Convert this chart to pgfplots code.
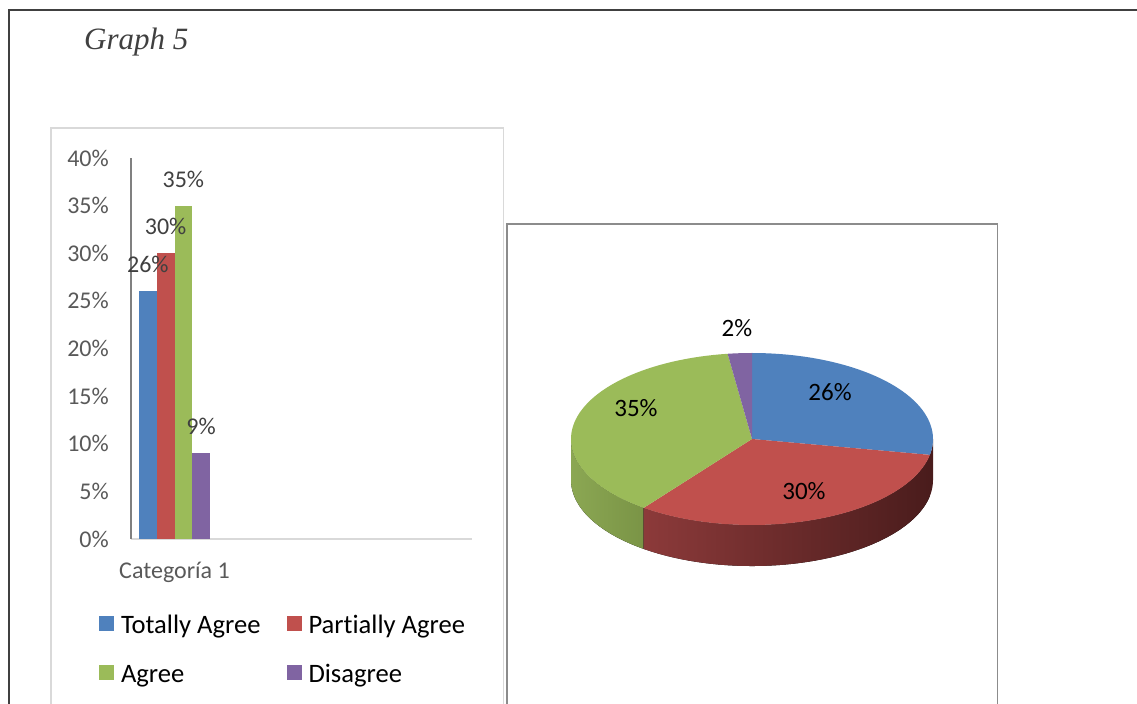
\documentclass[border=0pt]{standalone}
\usepackage{pgfplots}
\pgfplotsset{compat=1.18}
\usepackage{fontspec}
\setmainfont{Carlito}[Ligatures=NoCommon]
\newfontfamily\titlefont{Liberation Serif}
\definecolor{cBlue}{HTML}{4F81BD}
\definecolor{cRed}{HTML}{C0504D}
\definecolor{cGreen}{HTML}{9BBB59}
\definecolor{cPurple}{HTML}{8064A2}
\definecolor{tickgray}{HTML}{595959}
\definecolor{labgray}{HTML}{404040}
\definecolor{redL}{HTML}{8C3A3A}
\definecolor{redR}{HTML}{4A1C1C}
\definecolor{grnL}{HTML}{8BA753}
\definecolor{grnR}{HTML}{7A9446}
\definecolor{bluS}{HTML}{4A1C1C}
\newcommand{\fs}[1]{\fontsize{#1}{#1}\selectfont}

% pie values (percent)
\def\pieA{26}\def\pieB{30}\def\pieC{35}\def\pieD{2}
\pgfmathsetmacro\tot{\pieA+\pieB+\pieC+\pieD}
\pgfmathsetmacro\aA{90}
\pgfmathsetmacro\aB{\aA-360*\pieA/\tot}
\pgfmathsetmacro\aC{\aB-360*\pieB/\tot}
\pgfmathsetmacro\aD{\aC-360*\pieC/\tot}
\pgfmathsetmacro\aE{\aD-360*\pieD/\tot}
\def\D{0.477}

\begin{document}
\begin{tikzpicture}
\useasboundingbox (0,0) rectangle (1137bp,704bp);
% frames
\draw[color=black!75, line width=1.6bp] (1140bp,694bp) -- (9bp,694bp) -- (9bp,-2bp);
\draw[color=black!15, line width=1.5bp] (51bp,-2bp) -- (51bp,576bp) -- (503.5bp,576bp) -- (503.5bp,-2bp);
\draw[color=black!45, line width=1.8bp] (507bp,-2bp) -- (507bp,480bp) -- (997.5bp,480bp) -- (997.5bp,-2bp);
\node[anchor=base west, inner sep=0pt, text=labgray] at (84bp,654bp) {\titlefont\itshape\fs{31bp}Graph 5};

% bar chart
\begin{axis}[
  at={(131bp,165bp)}, anchor=south west,
  scale only axis, width=341bp, height=381bp,
  xmin=0, xmax=341, ymin=0, ymax=40,
  axis x line*=bottom, axis y line*=left,
  x axis line style={draw=black!15, line width=1.3bp, -},
  y axis line style={draw=black!50, line width=1.3bp, -},
  ytick={0,5,...,40},
  yticklabels={0\%,5\%,10\%,15\%,20\%,25\%,30\%,35\%,40\%},
  xtick={43.5}, xticklabels={Categoría 1},
  major tick length=0pt,
  tick label style={font=\fs{24bp}, text=tickgray, inner sep=0pt},
  yticklabel style={anchor=east, xshift=-22bp},
  xticklabel style={anchor=base, yshift=-39bp},
  ybar=0pt, bar width=17.75bp,
  nodes near coords={\pgfmathprintnumber[assume math mode=true]{\pgfplotspointmeta}\%},
  every node near coord/.append style={font=\fs{24bp}, text=labgray, inner sep=0pt, yshift=18bp},
  legend columns=2, legend cell align=left,
  legend style={draw=none, fill=none, inner sep=0pt, outer sep=0pt,
    at={(-0.0938,-0.1955)}, anchor=north west,
    font=\fs{26.6bp},
    row sep=25bp,
    /tikz/every odd column/.append style={column sep=5bp},
    /tikz/every even column/.append style={column sep=24bp},
  },
  every axis plot post/.append style={legend image code/.code={\fill[##1] (0bp,-5.5bp) rectangle (15bp,9.5bp);}},
]
\addplot[fill=cBlue, draw=none] coordinates {(43.5,26)};
\addplot[fill=cRed, draw=none] coordinates {(43.5,30)};
\addplot[fill=cGreen, draw=none] coordinates {(43.5,35)};
\addplot[fill=cPurple, draw=none] coordinates {(43.5,9)};
\legend{Totally Agree, Partially Agree, Agree, Disagree}
\end{axis}

% 3D pie chart
\begin{axis}[
  at={(752bp,265bp)}, anchor=center,
  scale only axis, width=362bp, height=172bp,
  xmin=-1, xmax=1, ymin=-1, ymax=1,
  hide axis, clip=false,
]
% side walls
\fill[left color=grnL, right color=grnR] plot[domain=-180:\aC, samples=40] ({cos(\x)},{sin(\x)}) -- plot[domain=\aC:-180, samples=40] ({cos(\x)},{sin(\x)-\D}) -- cycle;
\fill[left color=redL, right color=redR] plot[domain=\aC:\aB, samples=80] ({cos(\x)},{sin(\x)}) -- plot[domain=\aB:\aC, samples=80] ({cos(\x)},{sin(\x)-\D}) -- cycle;
\fill[bluS] plot[domain=\aB:0, samples=10] ({cos(\x)},{sin(\x)}) -- plot[domain=0:\aB, samples=10] ({cos(\x)},{sin(\x)-\D}) -- cycle;
% top faces
\fill[cBlue] (0,0) -- plot[domain=\aA:\aB, samples=60] ({cos(\x)},{sin(\x)}) -- cycle;
\fill[cRed] (0,0) -- plot[domain=\aB:\aC, samples=60] ({cos(\x)},{sin(\x)}) -- cycle;
\fill[cGreen] (0,0) -- plot[domain=\aC:\aD, samples=60] ({cos(\x)},{sin(\x)}) -- cycle;
\fill[cPurple] (0,0) -- plot[domain=\aD:\aE, samples=10] ({cos(\x)},{sin(\x)}) -- cycle;
% labels
\node[font=\fs{25bp}, inner sep=0pt] at (-0.083,1.291) {2\%};
\node[font=\fs{25bp}, inner sep=0pt] at (0.431,0.550) {26\%};
\node[font=\fs{25bp}, inner sep=0pt] at (-0.641,0.364) {35\%};
\node[font=\fs{25bp}, inner sep=0pt] at (0.287,-0.608) {30\%};
\end{axis}
\end{tikzpicture}
\end{document}
